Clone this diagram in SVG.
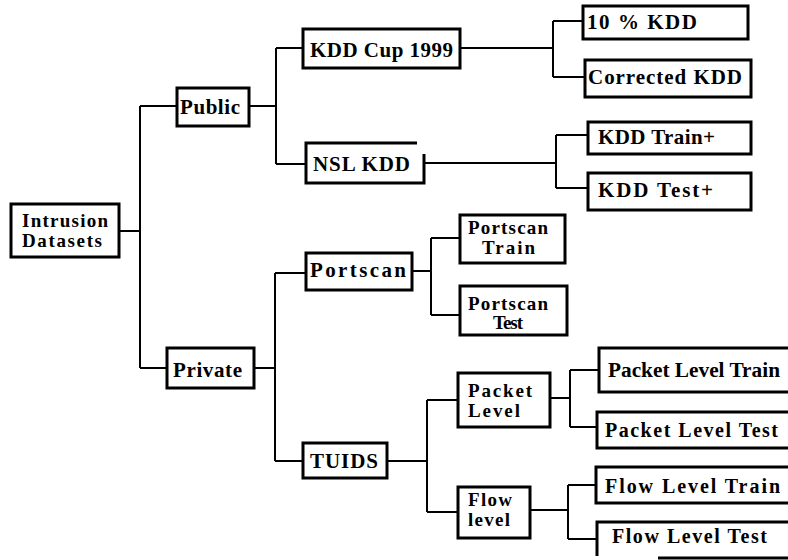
<svg xmlns="http://www.w3.org/2000/svg" width="788" height="560" viewBox="0 0 788 560">
  <style>
    .box { fill: #fff; stroke: #000; stroke-width: 3; }
    .open { fill: none; stroke: #000; stroke-width: 3; }
    .wire { fill: none; stroke: #000; stroke-width: 2; }
    text { font-family: "Liberation Serif", "Times New Roman", serif; font-weight: bold; font-size: 21px; fill: #000; }
    .sm { font-size: 19px; }
    .md { font-size: 20px; }
  </style>
  <rect width="788" height="560" fill="#fff"/>

  <!-- connectors -->
  <g id="connectors">
    <path class="wire" d="M119,231 H140 M140,106 V368 M140,106 H177 M140,368 H167"/>
    <path class="wire" d="M249,106 H276 M276,48 V164 M276,48 H303 M276,164 H306"/>
    <path class="wire" d="M460,48 H553 M553,21 V77 M553,21 H583 M553,77 H585"/>
    <path class="wire" d="M424,163 H556 M556,135 V188 M556,135 H588 M556,188 H588"/>
    <path class="wire" d="M254,368 H275 M275,273 V461 M275,273 H306 M275,461 H303"/>
    <path class="wire" d="M412,271 H431 M431,238 V315 M431,238 H460 M431,315 H460"/>
    <path class="wire" d="M387,461 H427 M427,400 V512 M427,400 H458 M427,512 H458"/>
    <path class="wire" d="M550,398 H570 M570,370 V427 M570,370 H599 M570,427 H597"/>
    <path class="wire" d="M530,510 H568 M568,485 V539 M568,485 H596 M568,539 H597"/>
  </g>

  <g id="intrusion-datasets">
    <rect class="box" x="11" y="204" width="108" height="53"/>
    <text class="sm" x="22" y="227" textLength="86" lengthAdjust="spacing">Intrusion</text>
    <text class="sm" x="22" y="247" textLength="80" lengthAdjust="spacing">Datasets</text>
  </g>

  <g id="public">
    <rect class="box" x="177" y="88" width="72" height="38"/>
    <text x="180" y="114" textLength="60" lengthAdjust="spacing">Public</text>
  </g>

  <g id="kdd-cup-1999">
    <rect class="box" x="303" y="29" width="157" height="39"/>
    <text x="310" y="57" textLength="143" lengthAdjust="spacing">KDD Cup 1999</text>
  </g>

  <g id="nsl-kdd">
    <path class="box" d="M417,143 H306 V183 H424 V154"/>
    <text x="313" y="171" textLength="97" lengthAdjust="spacing">NSL KDD</text>
  </g>

  <g id="kdd-10-percent">
    <rect class="box" x="583" y="6" width="165" height="33"/>
    <text x="587" y="29" textLength="110" lengthAdjust="spacing">10 % KDD</text>
  </g>

  <g id="corrected-kdd">
    <rect class="box" x="585" y="60" width="166" height="37"/>
    <text x="588" y="84" textLength="154" lengthAdjust="spacing">Corrected KDD</text>
  </g>

  <g id="kdd-train-plus">
    <rect class="box" x="588" y="122" width="163" height="32"/>
    <text x="598" y="144" textLength="117" lengthAdjust="spacing">KDD Train+</text>
  </g>

  <g id="kdd-test-plus">
    <rect class="box" x="588" y="173" width="163" height="37"/>
    <text x="598" y="197" textLength="115" lengthAdjust="spacing">KDD Test+</text>
  </g>

  <g id="private">
    <rect class="box" x="167" y="348" width="87" height="40"/>
    <text x="173" y="377" textLength="69" lengthAdjust="spacing">Private</text>
  </g>

  <g id="portscan">
    <rect class="box" x="306" y="253" width="106" height="37"/>
    <text x="310" y="277" textLength="96" lengthAdjust="spacing">Portscan</text>
  </g>

  <g id="portscan-train">
    <rect class="box" x="460" y="215" width="105" height="48"/>
    <text class="sm" x="468" y="234" textLength="80" lengthAdjust="spacing">Portscan</text>
    <text class="sm" x="482" y="254" textLength="53" lengthAdjust="spacing">Train</text>
  </g>

  <g id="portscan-test">
    <rect class="box" x="460" y="286" width="107" height="49"/>
    <text class="sm" x="468" y="310" textLength="80" lengthAdjust="spacing">Portscan</text>
    <text class="sm" x="493" y="329" textLength="30" lengthAdjust="spacing">Test</text>
  </g>

  <g id="tuids">
    <rect class="box" x="303" y="443" width="84" height="35"/>
    <text x="310" y="468" textLength="68" lengthAdjust="spacing">TUIDS</text>
  </g>

  <g id="packet-level">
    <rect class="box" x="458" y="373" width="92" height="54"/>
    <text class="sm" x="468" y="397" textLength="64" lengthAdjust="spacing">Packet</text>
    <text class="sm" x="468" y="417" textLength="52" lengthAdjust="spacing">Level</text>
  </g>

  <g id="flow-level">
    <rect class="box" x="458" y="487" width="72" height="51"/>
    <text class="sm" x="468" y="506" textLength="44" lengthAdjust="spacing">Flow</text>
    <text class="sm" x="468" y="526" textLength="42" lengthAdjust="spacing">level</text>
  </g>

  <g id="packet-level-train">
    <rect class="box" x="599" y="348" width="194" height="44"/>
    <text class="md" x="608" y="377" textLength="172" lengthAdjust="spacingAndGlyphs">Packet Level Train</text>
  </g>

  <g id="packet-level-test">
    <rect class="box" x="597" y="412" width="196" height="36"/>
    <text class="md" x="605" y="437" textLength="173" lengthAdjust="spacing">Packet Level Test</text>
  </g>

  <g id="flow-level-train">
    <rect class="box" x="596" y="467" width="197" height="36"/>
    <text class="md" x="605" y="493" textLength="175" lengthAdjust="spacing">Flow Level Train</text>
  </g>

  <g id="flow-level-test">
    <path class="open" d="M792,522 H597 V556 M658,558 H792"/>
    <text class="md" x="612" y="543" textLength="155" lengthAdjust="spacing">Flow Level Test</text>
  </g>
</svg>
